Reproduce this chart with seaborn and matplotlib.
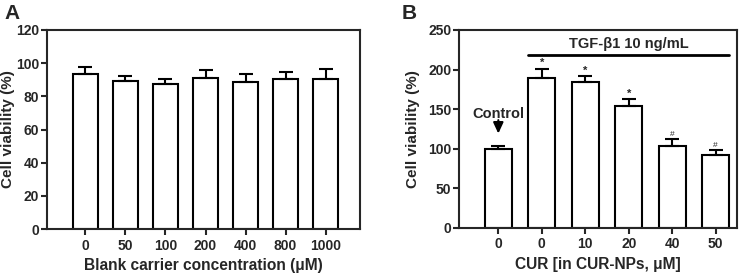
import numpy as np
import pandas as pd
import seaborn as sns
import matplotlib
matplotlib.use("Agg")
from matplotlib import pyplot as plt

# data panel A
conc_labels = ["0", "50", "100", "200", "400", "800", "1000"]
viab_a = [93.5, 89.0, 87.2, 90.8, 88.7, 90.3, 90.6]
err_a = [4.2, 3.3, 3.3, 4.9, 5.0, 4.6, 6.0]

# data panel B
group_names = ["Control", "TGF 0", "TGF 10", "TGF 20", "TGF 40", "TGF 50"]
cur_labels = ["0", "0", "10", "20", "40", "50"]
viab_b = [99.3, 189.2, 184.5, 153.7, 103.5, 92.5]
err_b = [4.6, 11.4, 6.8, 8.4, 8.4, 5.5]
marks_b = ["", "*", "*", "*", "#", "#"]

sns.set_style("ticks")
plt.rcParams["font.family"] = ["Liberation Sans", "DejaVu Sans"]
plt.rcParams["font.weight"] = "bold"
plt.rcParams["axes.linewidth"] = 1.5

fig = plt.figure(figsize=(7.54, 2.79), dpi=100)
ax1 = fig.add_axes([0.0623, 0.179, 0.4152, 0.7135])
ax2 = fig.add_axes([0.609, 0.184, 0.3685, 0.7085])

df_a = pd.DataFrame({"conc": conc_labels, "viab": viab_a})
df_b = pd.DataFrame({"group": group_names, "viab": viab_b})

sns.barplot(data=df_a, x="conc", y="viab", ax=ax1, color="white",
            edgecolor="black", linewidth=1.5, width=0.62, errorbar=None)
sns.barplot(data=df_b, x="group", y="viab", ax=ax2, color="white",
            edgecolor="black", linewidth=1.5, width=0.63, errorbar=None)

# one-sided error bars
for ax, vals, errs in [(ax1, viab_a, err_a), (ax2, viab_b, err_b)]:
    xs = np.arange(len(vals))
    ax.errorbar(xs, vals, yerr=[np.zeros(len(errs)), errs], fmt="none",
                ecolor="black", elinewidth=1.5, capsize=4.7, capthick=1.5, zorder=3)
    for s in ["top", "right", "left", "bottom"]:
        ax.spines[s].set_visible(True)
        ax.spines[s].set_linewidth(1.5)
    ax.tick_params(width=1.5, length=4, labelsize=10)
    ax.tick_params(axis="y", pad=1.5)
    ax.tick_params(axis="x", pad=3)
    for lab in ax.get_xticklabels() + ax.get_yticklabels():
        lab.set_fontweight("bold")

# panel A axes
ax1.set_ylim(0, 120)
ax1.set_yticks(range(0, 121, 20))
ax1.set_xlim(-0.96, 6.86)
ax1.set_ylabel("Cell viability (%)", fontsize=11, fontweight="bold")
ax1.set_xlabel("Blank carrier concentration (\u03bcM)", fontsize=11.2, fontweight="bold")
ax1.yaxis.set_label_coords(-0.102, 0.5)

# panel B axes
ax2.set_ylim(0, 250)
ax2.set_yticks(range(0, 251, 50))
ax2.set_xlim(-0.9, 5.49)
ax2.set_xticks(range(len(cur_labels)))
ax2.set_xticklabels(cur_labels, fontweight="bold")
ax2.set_ylabel("Cell viability (%)", fontsize=11, fontweight="bold")
ax2.set_xlabel("CUR [in CUR-NPs, \u03bcM]", fontsize=11.2, fontweight="bold")
ax2.yaxis.set_label_coords(-0.141, 0.5)

# significance marks
for i, m in enumerate(marks_b):
    if m == "*":
        ax2.text(i, viab_b[i] + err_b[i] + 1, m, ha="center", va="bottom", fontsize=8, fontweight="bold")
    elif m == "#":
        ax2.text(i, viab_b[i] + err_b[i] + 1, m, ha="center", va="bottom", fontsize=6, fontweight="normal")

# TGF line and label
ax2.plot([0.685, 5.315], [218, 218], color="black", lw=2)
ax2.text(3.0, 227, "TGF-\u03b21 10 ng/mL", ha="center", va="baseline", fontsize=10.5, fontweight="bold")

# control arrow
ax2.annotate("", xy=(0, 119), xytext=(0, 136),
             arrowprops=dict(arrowstyle="-|>,head_width=0.3,head_length=0.65", color="black",
                             lw=1.5, shrinkA=0, shrinkB=0))
ax2.text(0, 139, "Control", ha="center", va="baseline", fontsize=10.5, fontweight="bold")

# panel letters
fig.text(0.006, 0.985, "A", fontsize=15, fontweight="bold", va="top", ha="left")
fig.text(0.533, 0.985, "B", fontsize=15, fontweight="bold", va="top", ha="left")

fig.savefig("out.png", dpi=100)
